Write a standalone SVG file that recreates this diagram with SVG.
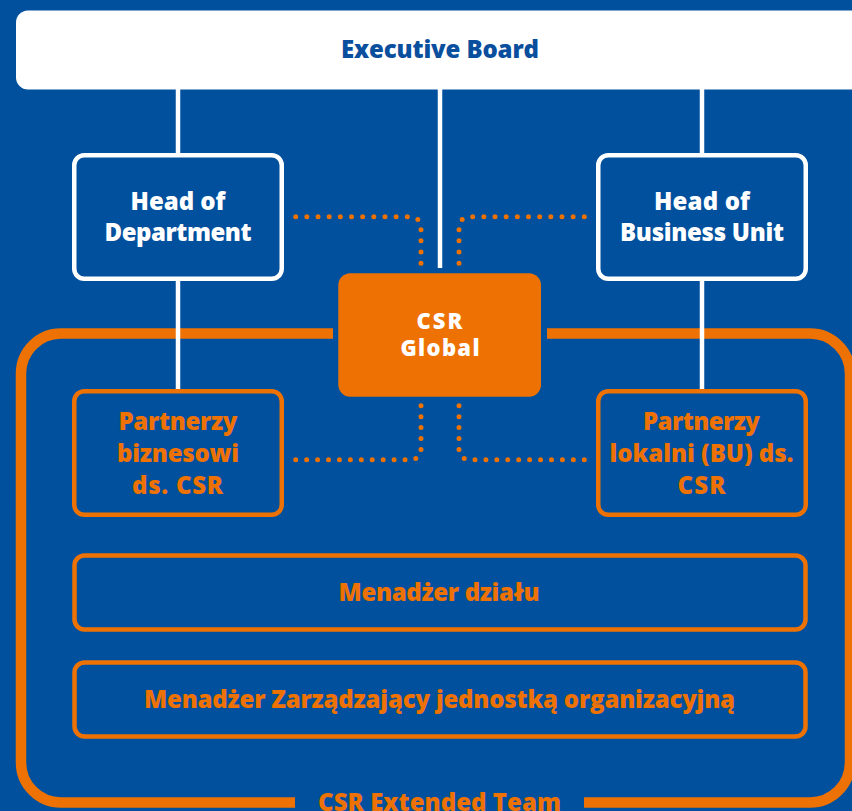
<svg xmlns="http://www.w3.org/2000/svg" width="852" height="811" viewBox="0 0 852 811">
  <style>
    .t { font-family: "Open Sans", "Liberation Sans", sans-serif; font-weight: 800; font-size: 24px; text-anchor: middle; }
    .s { font-size: 22px; }
    .w { fill: #ffffff; }
    .o { fill: #EE7203; }
    .b { fill: #0A4E9E; }
    .wbox { fill: none; stroke: #ffffff; stroke-width: 4.5; }
    .obox { fill: none; stroke: #EE7203; stroke-width: 4.5; }
    .wline { stroke: #ffffff; stroke-width: 4.5; fill: none; }
    .dots { stroke: #EE7203; stroke-width: 5; fill: none; stroke-linecap: round; }
  </style>
  <rect x="0" y="0" width="852" height="811" fill="#00509E"/>

  <g id="frame">
    <path d="M547,333.5 H810 A40,40 0 0 1 850,373.5 V762.5 A40,40 0 0 1 810,802.5 H584 M295,802.5 H61 A40,40 0 0 1 21,762.5 V373.5 A40,40 0 0 1 61,333.5 H333" fill="none" stroke="#EE7203" stroke-width="10.5"/>
    <text class="t o" x="439.5" y="810.5" textLength="243" lengthAdjust="spacing">CSR Extended Team</text>
  </g>

  <g id="connectors">
    <line class="wline" x1="178" y1="89" x2="178" y2="154"/>
    <line class="wline" x1="178" y1="280" x2="178" y2="390"/>
    <line class="wline" x1="440" y1="89" x2="440" y2="268"/>
    <line class="wline" x1="702" y1="89" x2="702" y2="154"/>
    <line class="wline" x1="702" y1="280" x2="702" y2="390"/>
    <path class="dots" stroke-dasharray="0 11.16" d="M295.7,216.7 H411 A10,10 0 0 1 421,226.7 V263.3"/>
    <path class="dots" stroke-dasharray="0 11.16" d="M584.3,216.7 H469 A10,10 0 0 0 459,226.7 V263.3"/>
    <path class="dots" stroke-dasharray="0 10.93" d="M421,405.7 V449.7 A10,10 0 0 1 411,459.7 H295.7"/>
    <path class="dots" stroke-dasharray="0 10.93" d="M459,405.7 V449.7 A10,10 0 0 0 469,459.7 H584.3"/>
  </g>

  <g id="executive-board">
    <rect x="16" y="10.5" width="860" height="79" rx="12" fill="#ffffff"/>
    <text class="t b" x="440" y="58" textLength="198" lengthAdjust="spacing">Executive Board</text>
  </g>

  <g id="head-of-department">
    <rect class="wbox" x="74.25" y="155.25" width="207.5" height="123.5" rx="10"/>
    <text class="t w" x="178" y="210" textLength="95" lengthAdjust="spacing">Head of</text>
    <text class="t w" x="178" y="241" textLength="147" lengthAdjust="spacing">Department</text>
  </g>

  <g id="head-of-business-unit">
    <rect class="wbox" x="598.25" y="155.25" width="207.5" height="123.5" rx="10"/>
    <text class="t w" x="702" y="210" textLength="96" lengthAdjust="spacing">Head of</text>
    <text class="t w" x="702" y="241" textLength="164" lengthAdjust="spacing">Business Unit</text>
  </g>

  <g id="csr-global">
    <rect x="338.3" y="273.3" width="202.7" height="123.4" rx="12" fill="#EE7203"/>
    <text class="t s w" x="439.5" y="328.5" textLength="46" lengthAdjust="spacing">CSR</text>
    <text class="t s w" x="440" y="356" textLength="79" lengthAdjust="spacing">Global</text>
  </g>

  <g id="partnerzy-biznesowi">
    <rect class="obox" x="74.25" y="391.25" width="207.5" height="123.5" rx="10"/>
    <text class="t o" x="178" y="430" textLength="119" lengthAdjust="spacing">Partnerzy</text>
    <text class="t o" x="178" y="462" textLength="122" lengthAdjust="spacing">biznesowi</text>
    <text class="t o" x="177.5" y="494" textLength="91" lengthAdjust="spacing">ds. CSR</text>
  </g>

  <g id="partnerzy-lokalni">
    <rect class="obox" x="598.25" y="391.25" width="207.5" height="123.5" rx="10"/>
    <text class="t o" x="701.5" y="430" textLength="117" lengthAdjust="spacing">Partnerzy</text>
    <text class="t o" x="701.5" y="462" textLength="184" lengthAdjust="spacing">lokalni (BU) ds.</text>
    <text class="t o" x="701.5" y="494" textLength="48" lengthAdjust="spacing">CSR</text>
  </g>

  <g id="menadzer-dzialu">
    <rect class="obox" x="74.5" y="555.5" width="731" height="74" rx="10"/>
    <text class="t o" x="439" y="601" textLength="201" lengthAdjust="spacing">Menadżer działu</text>
  </g>

  <g id="menadzer-zarzadzajacy">
    <rect class="obox" x="74.5" y="662.5" width="731" height="74" rx="10"/>
    <text class="t o" x="439.5" y="707.5" textLength="591" lengthAdjust="spacing">Menadżer Zarządzający jednostką organizacyjną</text>
  </g>
</svg>
